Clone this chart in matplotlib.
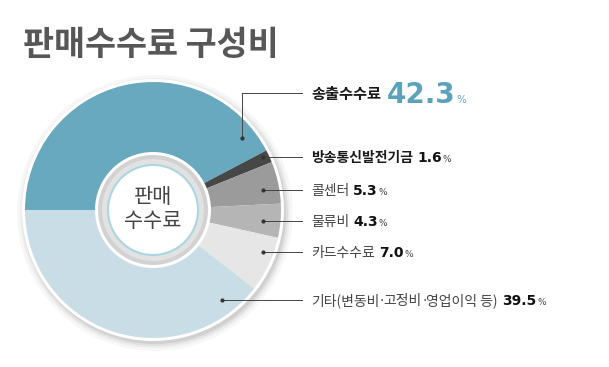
import matplotlib.pyplot as plt
from matplotlib.patches import Circle

plt.rcParams['font.family'] = ['Noto Sans CJK KR', 'DejaVu Sans']

# data
labels = ['송출수수료', '방송통신발전기금', '콜센터', '물류비', '카드수수료',
          '기타(변동비·고정비·영업이익 등)']
values = [42.3, 1.6, 5.3, 4.3, 7.0, 39.5]
colors = ['#68a9c0', '#474747', '#9b9b9b', '#b5b5b5', '#e6e6e6', '#c8dde5']
bold_label = [True, True, False, False, False, False]

W, H = 609, 367
fig = plt.figure(figsize=(W / 100, H / 100), dpi=100)
ax = fig.add_axes([0, 0, 1, 1])
ax.set_xlim(0, W)
ax.set_ylim(0, H)
ax.set_axis_off()


def Y(py):
    # pixel row (from top) -> data y
    return H - py


cx, cy = 153, Y(210)
R_out, R_in = 128, 57

# soft shadow
for dr, a in [(10, 0.03), (7, 0.04), (5, 0.05), (3, 0.07)]:
    ax.add_patch(Circle((cx + 2, cy - 3), R_out + dr, color='#000000', alpha=a, lw=0, zorder=1))
ax.add_patch(Circle((cx, cy), R_out + 3, color='white', lw=0, zorder=2))

wedges, _ = ax.pie(values, colors=colors, startangle=180, counterclock=False,
                   center=(cx, cy), radius=R_out, frame=False,
                   wedgeprops=dict(width=R_out - R_in, linewidth=0))
for w in wedges:
    w.set_zorder(3)
ax.set_xlim(0, W)
ax.set_ylim(0, H)
ax.set_aspect('auto')

# inner ring and centre disc
ax.add_patch(Circle((cx, cy), R_in + 1, color='white', lw=0, zorder=4))
ax.add_patch(Circle((cx, cy), R_in - 2, color='#d2d2d2', lw=0, zorder=5))
ax.add_patch(Circle((cx, cy), R_in - 6, color='#e2e2e2', lw=0, zorder=5))
ax.add_patch(Circle((cx, cy), 45, facecolor='white', edgecolor='#a9d6e3', lw=1.5, zorder=6))
ax.text(cx, cy + 1, '판매\n수수료', ha='center', va='center', fontsize=15,
        color='#444444', linespacing=1.15, zorder=7)

# title
ax.text(23, Y(45), '판매수수료 구성비', ha='left', va='center', fontsize=24.3,
        color='#575757', fontweight='bold')

# leader lines: dot position (pixel) and label row
dots = [(242, 138), (263, 157), (263, 190), (263, 221), (263, 252), (222, 300)]
rows = [95, 157, 190, 221, 252, 300]
line_end = 302
text_x = 311

fig.canvas.draw()
renderer = fig.canvas.get_renderer()


def put(x, y, s, **kw):
    t = ax.text(x, y, s, ha='left', va='baseline', **kw)
    bb = t.get_window_extent(renderer=renderer)
    return x + bb.width


def put_label(x, y, s, **kw):
    # draw the narrow middle dot in DejaVu so it does not take a full-width cell
    parts = s.split('·')
    for j, p in enumerate(parts):
        if p:
            x = put(x, y, p, **kw)
        if j < len(parts) - 1:
            x = put(x, y, '·', family='DejaVu Sans',
                    **{k: v for k, v in kw.items() if k != 'family'})
    return x


for i, (lab, val) in enumerate(zip(labels, values)):
    dx, dy = dots[i]
    ry = rows[i]
    if i == 0:
        ax.plot([dx, dx, line_end], [Y(dy), Y(ry - 2), Y(ry - 2)], color='#444444', lw=0.7, zorder=8)
    else:
        ax.plot([dx, line_end], [Y(dy), Y(ry)], color='#444444', lw=0.7, zorder=8)
    ax.plot(dx, Y(dy), 'o', color='#333333', ms=2, zorder=9)

    base = Y(ry + 5)
    if i == 0:
        x = put(text_x, base + 1, lab, fontsize=11, fontweight='bold', color='#1a1a1a')
        x = put(x + 6, base - 3, f'{val:.1f}', fontsize=20, fontweight='bold',
                color='#5aa3bb', family='DejaVu Sans')
        put(x + 1, base - 3, '%', fontsize=7.5, color='#5aa3bb', family='DejaVu Sans')
    else:
        x = put_label(text_x, base, lab, fontsize=10,
                      fontweight='bold' if bold_label[i] else 'normal',
                      color='#1a1a1a' if bold_label[i] else '#444444')
        x = put(x + 4, base, f'{val:.1f}', fontsize=10, fontweight='bold',
                color='#111111', family='DejaVu Sans')
        put(x + 1, base, '%', fontsize=6.5, color='#444444', family='DejaVu Sans')

fig.savefig('out.png', dpi=100, facecolor='white')
